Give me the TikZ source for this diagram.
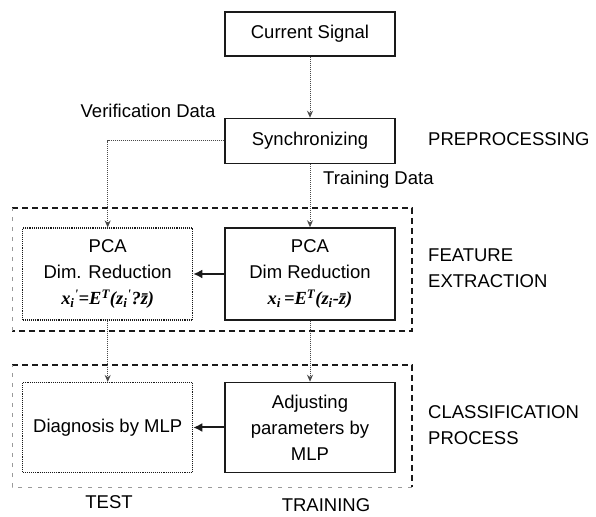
\documentclass[tikz,border=0pt]{standalone}
\usepackage{fontspec}
\setmainfont{Liberation Sans}
\newfontfamily\eqfont{Liberation Serif}
\usepackage{xcolor}
\usepackage{tikz}
\usetikzlibrary{positioning,arrows.meta}
\definecolor{ink}{HTML}{1A1A1A}
\definecolor{wire}{HTML}{4A4A4A}
\definecolor{faint}{HTML}{9A9A9A}
\tikzset{
  box/.style={rectangle,draw=ink,line width=1.5pt,align=center,inner sep=2pt,
    font=\fontsize{18.5}{26}\selectfont,minimum width=170pt},
  dbox/.style={box,line width=1.1pt,densely dotted},
  fl/.style={-{Stealth[length=7pt,width=6pt]},draw=wire,line width=1pt,densely dotted},
  push/.style={-{Latex[length=9pt,width=9pt]},draw=ink,line width=2pt},
  frame/.style={draw=ink,line width=2.2pt,dash pattern=on 6pt off 4pt},
  thin/.style={draw=faint,line width=0.6pt,dash pattern=on 4pt off 6pt},
  lbl/.style={font=\fontsize{18.5}{26}\selectfont,align=left,inner sep=0pt},
}
\newcommand{\eq}[1]{{\eqfont\bfseries\itshape #1}}

\begin{document}
\begin{tikzpicture}[x=1pt,y=1pt,node distance=61pt and 31pt]
  \useasboundingbox (0,0) rectangle (596,516);
  \draw[frame] (12,308) -- (412,308) -- (412,185) -- (12,185);
  \draw[thin] (12,185) -- (12,308);
  \draw[frame] (12,151) -- (412,151) -- (412,29);
  \draw[thin] (412,29) -- (12,29) -- (12,151);
  \node[box,minimum height=44pt] (cur) at (310,482) {Current Signal};
  \node[box,minimum height=45pt,below=61pt of cur] (sync) {Synchronizing};
  \node[box,minimum height=92pt,below=63pt of sync] (pcar)
    {PCA\\Dim Reduction\\\eq{x\textsubscript{i}\,=E\textsuperscript{T}(z\textsubscript{i}-\={z})}};
  \node[dbox,minimum height=92pt,left=31pt of pcar] (pcal)
    {PCA\\Dim. Reduction\\\eq{x\textsubscript{i}\textsuperscript{'}=E\textsuperscript{T}(z\textsubscript{i}\textsuperscript{'}?\={z})}};
  \node[box,minimum height=90pt,below=61pt of pcar] (adj) {Adjusting\\parameters by\\MLP};
  \node[dbox,minimum height=90pt,left=31pt of adj] (diag) {Diagnosis by MLP};
  \node[lbl] (verif) at (148,405) {Verification Data};
  \node[lbl,anchor=west] (train) at (323,336) {Training Data};
  \node[lbl,anchor=west] (prep) at (428,377) {PREPROCESSING};
  \node[lbl,anchor=west] (feat) at (428,248) {FEATURE\\EXTRACTION};
  \node[lbl,anchor=west] (cls) at (428,91) {CLASSIFICATION\\PROCESS};
  \node[lbl] (test) at (109,14) {TEST};
  \node[lbl] (trn) at (326,11) {TRAINING};
  \draw[fl] (cur) -- (sync);
  \draw[fl] (sync.west) -| (pcal.north);
  \draw[fl] (sync) -- (pcar);
  \draw[fl] (pcal) -- (diag);
  \draw[fl] (pcar) -- (adj);
  \draw[push] (pcar) -- (pcal);
  \draw[push] (adj) -- (diag);
\end{tikzpicture}
\end{document}
